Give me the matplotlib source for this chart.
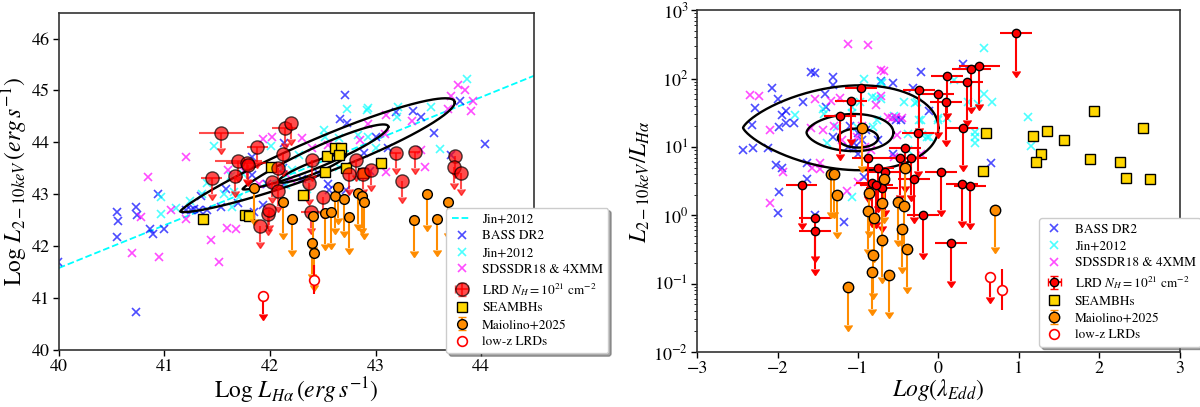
import numpy as np
import matplotlib
matplotlib.use('Agg')
import matplotlib.pyplot as plt

plt.rcParams['font.family'] = 'STIXGeneral'
plt.rcParams['mathtext.fontset'] = 'stix'

# ---------------- left panel: L_X vs L_Halpha (log) ----------------
jin_slope, jin_icpt = 0.823, 41.58   # Jin+2012 relation, y at log LHa = 40

bass_l_x = [39.99, 40.55, 40.56, 40.55, 40.73, 40.74, 40.73, 40.86, 40.89, 40.94, 41.0, 41.28,
            41.33, 41.35, 41.4, 41.58, 41.54, 41.7, 41.85, 41.93, 41.83, 41.97, 42.13, 42.13,
            41.83, 42.71, 42.66, 42.73, 43.0, 43.19, 43.35, 43.43, 43.55, 43.8, 44.04, 43.71,
            43.12, 42.89, 42.56, 42.72, 43.06, 42.46, 42.12, 41.2, 41.25, 42.3, 42.55, 42.95]
bass_l_y = [41.69, 42.65, 42.48, 42.17, 42.75, 42.6, 40.73, 42.33, 42.23, 43.0, 42.33, 42.71,
            42.7, 42.96, 42.69, 43.1, 42.75, 42.83, 42.66, 42.8, 43.37, 43.2, 43.99, 43.2,
            43.71, 44.92, 44.46, 44.37, 44.1, 44.58, 44.6, 44.48, 44.18, 44.8, 43.96, 43.75,
            43.9, 43.79, 43.08, 43.08, 43.62, 43.4, 43.5, 42.7, 42.7, 43.3, 43.2, 43.45]

jin_l_x = [40.97, 40.97, 41.11, 41.36, 41.64, 42.15, 41.47, 42.01, 41.66, 41.74, 41.4, 41.63,
           42.21, 42.51, 42.65, 42.73, 42.93, 42.92, 43.21, 43.2, 43.52, 43.87, 43.61, 42.93,
           42.52, 42.83, 42.27, 42.65, 42.81, 42.11, 41.24, 41.56, 41.71, 42.4, 43.0, 42.35]
jin_l_y = [42.95, 42.63, 42.73, 43.0, 42.75, 43.17, 43.93, 43.93, 43.05, 43.4, 43.22, 43.36,
           43.46, 44.23, 44.08, 44.65, 44.66, 44.62, 44.69, 44.48, 44.68, 45.23, 43.88, 44.1,
           44.1, 44.15, 43.75, 43.53, 43.33, 43.48, 42.88, 43.0, 42.94, 43.3, 43.9, 43.1]

sdss_l_x = [40.84, 41.2, 41.93, 42.02, 40.78, 40.69, 40.95, 41.06, 41.2, 41.44, 41.52, 41.59,
            41.68, 42.3, 42.4, 41.6, 41.75, 42.93, 43.09, 43.1, 43.43, 43.47, 43.34, 43.71,
            43.78, 43.85, 43.92, 43.9, 43.69, 43.1, 42.55, 42.85, 41.9, 42.2]
sdss_l_y = [43.33, 43.71, 44.07, 44.11, 42.56, 41.86, 41.79, 42.69, 42.53, 42.12, 41.7, 42.36,
            42.33, 44.08, 43.9, 43.46, 43.45, 44.35, 44.17, 44.52, 43.86, 43.52, 44.41, 44.9,
            45.1, 45.0, 44.8, 44.6, 44.65, 43.43, 43.95, 44.05, 43.2, 43.3]

lrd_l_x = [41.54, 41.45, 41.70, 41.67, 41.78, 41.79, 41.88, 42.02, 42.12, 42.08, 42.08, 42.14,
           42.20, 42.40, 42.37, 42.50, 42.75, 42.81, 42.88, 42.96, 43.19, 43.25, 43.37, 43.75,
           43.74, 43.81, 41.91, 41.98, 41.99, 42.39]
lrd_l_y = [44.19, 43.31, 43.65, 43.36, 43.60, 43.57, 43.92, 43.24, 43.77, 43.07, 43.50, 44.28,
           44.37, 43.67, 43.21, 42.95, 43.40, 43.67, 43.40, 43.47, 43.80, 43.25, 43.81, 43.73,
           43.52, 43.41, 42.38, 42.63, 42.70, 42.66]
lrd_l_xerr = [0.21, 0.10, 0.22, 0.0, 0.20, 0.0, 0.10, 0.0, 0.0, 0.0, 0.0, 0.12,
              0.0, 0.0, 0.0, 0.0, 0.0, 0.0, 0.0, 0.0, 0.05, 0.0, 0.05, 0.0,
              0.0, 0.0, 0.0, 0.0, 0.0, 0.10]

seam_l_x = [41.37, 41.76, 41.80, 42.01, 42.31, 42.52, 42.54, 42.62, 42.67, 42.65, 42.72, 42.88, 43.05]
seam_l_y = [42.52, 42.60, 42.58, 43.52, 42.98, 43.42, 43.73, 43.90, 43.90, 43.75, 43.50, 43.41, 43.60]

maio_l_x = [41.85, 42.12, 42.21, 42.40, 42.42, 42.41, 42.52, 42.58, 42.62, 42.64, 42.70, 42.75,
            42.83, 42.87, 42.89, 43.36, 43.49, 43.58, 43.69]
maio_l_y = [43.12, 42.85, 42.52, 42.06, 41.86, 42.58, 42.64, 42.66, 42.96, 43.15, 42.90, 42.56,
            43.02, 42.96, 42.85, 42.50, 43.00, 42.52, 42.86]

lowz_l_x = [41.93, 42.42]
lowz_l_y = [41.04, 41.35]

# ---------------- right panel: L_X/L_Halpha vs Eddington ratio ----------------
bass_r_x = [-1.59, -1.53, -1.31, -1.31, -2.07, -2.0, -2.28, -2.32, -1.94, -1.89, -1.98, -1.89,
            -1.79, -2.43, -2.3, -2.12, -2.02, -1.94, -1.68, -1.63, -1.41, -1.40, -1.31, -1.13,
            -1.05, -1.05, -1.0, -0.57, -0.72, -0.32, -0.22, -0.47, -0.53, -0.57, -0.75, -1.64,
            -1.98, -2.0, -1.53, -1.17, -0.93, 0.31, -0.12, 0.65, -1.0, -0.95, -0.9, -1.1]
bass_r_logy = [2.09, 2.08, 2.02, 1.9, 1.86, 1.7, 1.57, 1.32, 1.46, 1.52, 1.29, 1.35,
               1.35, 0.95, 0.98, 0.98, 0.73, 0.69, 1.66, 0.76, 1.77, 1.58, 1.14, 1.0,
               1.06, 0.98, 0.9, 1.93, 1.97, 1.86, 2.09, 1.39, 1.4, 0.9, 1.1, 0.53,
               0.34, 0.03, 0.0, -0.1, 0.56, 2.22, 1.52, 0.76, 1.2, 1.1, 1.25, 1.3]

jin_r_x = [-0.93, -0.72, -0.70, -0.82, -0.78, -0.72, -0.97, -1.07, -0.43, -0.26, -0.22, -0.20,
           -0.12, 0.0, -1.78, -1.44, -1.42, -1.26, -1.07, -1.38, -1.01, -0.81, -0.76, -0.38,
           0.57, 0.2, 0.37, 0.49, 0.57, 0.67, 0.46, 0.46, 0.46, 1.11, 1.15, -0.29,
           -0.24, 0.11, -0.01, -0.38, -0.14, -1.08, -0.55]
jin_r_logy = [1.99, 1.95, 1.94, 1.73, 1.71, 1.70, 1.66, 1.59, 1.65, 1.66, 1.39, 1.17,
              1.14, 1.39, 1.47, 1.55, 1.48, 1.29, 1.49, 1.06, 1.29, 1.29, 1.39, 0.95,
              2.44, 1.98, 1.66, 1.63, 1.77, 1.66, 1.22, 1.14, 1.06, 1.44, 1.01, 1.64,
              1.39, 1.42, 1.42, 1.19, 1.14, 0.27, 1.45]

sdss_r_x = [-1.13, -0.88, -0.72, -0.68, -2.23, -2.1, -1.53, -1.59, -1.43, -1.34, -1.23, -0.78,
            -0.72, -0.63, -0.58, -1.01, -0.91, -0.84, -0.51, -0.55, -1.47, -1.57, -1.93, -2.34,
            -2.09, -1.14, -1.0, -1.47, -0.22, -0.53, -0.45, -1.2, -1.3, -0.95]
sdss_r_logy = [2.5, 2.49, 2.12, 2.11, 1.74, 1.25, 1.7, 1.27, 1.25, 1.67, 1.72, 1.61,
               1.75, 1.44, 1.42, 1.14, 1.0, 0.95, 1.17, 0.85, 0.76, 0.69, 0.63, 1.76,
               0.18, 0.35, 0.48, 0.67, 0.9, 1.44, 1.43, 1.1, 1.3, 1.3]

lrd_r_x = [0.96, 0.41, 0.51, 0.11, 0.35, -0.24, -0.01, 0.09, 0.30, -0.25, -0.42, -0.48,
           -0.34, 0.03, -0.30, 0.29, 0.39, -0.19, 0.16, -0.96, -1.09, -1.22, -0.88, -0.75,
           -0.66, -0.82, -0.70, -0.77, -1.70, -1.53, -1.53]
lrd_r_y = [457, 138, 151, 110, 89, 67, 59, 45, 19, 16, 9.5, 7.0,
           7.0, 4.3, 3.4, 2.9, 2.7, 1.0, 0.39, 72, 47, 28, 6.9, 4.9,
           4.3, 2.95, 2.5, 2.8, 2.75, 0.91, 0.59]
lrd_r_xerr = [0.2, 0.24, 0.25, 0.2, 0.2, 0.2, 0.2, 0.2, 0.19, 0.2, 0.2, 0.2,
              0.2, 0.2, 0.2, 0.2, 0.2, 0.2, 0.2, 0.2, 0.2, 0.2, 0.2, 0.2,
              0.2, 0.2, 0.2, 0.2, 0.19, 0.2, 0.2]

seam_r_x = [0.59, 0.55, 1.18, 1.35, 1.56, 1.27, 1.22, 1.93, 1.88, 2.54, 2.26, 2.33, 2.63]
seam_r_y = [15.9, 4.5, 14.4, 17.0, 12.6, 7.9, 6.0, 33, 6.6, 18.6, 6.0, 3.5, 3.4]

maio_r_x = [-0.95, -1.34, -1.30, -1.26, -0.68, -0.86, -0.41, -0.87, -0.80, -0.70, -0.50, -0.43,
            -0.45, -0.39, -0.70, -0.81, -0.83, -0.62, -1.13, 0.70]
maio_r_y = [18.6, 4.0, 4.0, 2.0, 3.4, 2.1, 5.0, 1.15, 0.9, 1.5, 1.55, 1.35,
            0.63, 0.32, 0.44, 0.26, 0.15, 0.135, 0.089, 1.2]

lowz_r_x = [0.64, 0.79]
lowz_r_y = [0.126, 0.081]

# density contours (centre, main axis, width axis, tip sharpness)
contours_l = [((42.45, 43.72), (1.30, 1.05), (0.0, 0.42), 0.2),
              ((42.43, 43.70), (0.69, 0.60), (0.0, 0.24), 0.2),
              ((42.40, 43.50), (0.32, 0.25), (0.0, 0.12), 0.0)]
contours_r = [((-1.215, 1.28), (1.215, 0.0), (0.0, 0.72), 0.25),
              ((-1.10, 1.21), (0.54, 0.0), (0.0, 0.29), 0.1),
              ((-1.00, 1.13), (0.25, 0.0), (0.0, 0.14), 0.0)]


def contour_path(c, u, v, p, n=300):
    t = np.linspace(0, 2 * np.pi, n)
    s = np.sin(t) * ((1 + np.cos(t)) / 2) ** p
    return c[0] + u[0] * np.cos(t) + v[0] * s, c[1] + u[1] * np.cos(t) + v[1] * s


def log_arrow(y, dex):
    y = np.asarray(y, float)
    return y * (1 - 10 ** (-dex))


fig = plt.figure(figsize=(12, 4.07), dpi=100)
ax1 = fig.add_axes([0.049, 0.140, 0.396, 0.829])
ax2 = fig.add_axes([0.581, 0.135, 0.402, 0.840])

cross_kw = dict(ls='none', marker='x', ms=5.5, mew=1.2, alpha=0.7)
leg_kw = dict(loc='upper left', fontsize=9.5, shadow=True, borderaxespad=0,
              handlelength=1.5, handletextpad=0.8, labelspacing=0.35)

# ---- left ----
xx = np.linspace(40, 44.5, 20)
h_line, = ax1.plot(xx, jin_icpt + jin_slope * (xx - 40), '--', color='cyan', lw=1.3)
h_bass, = ax1.plot(bass_l_x, bass_l_y, color='blue', **cross_kw)
h_jin, = ax1.plot(jin_l_x, jin_l_y, color='cyan', **cross_kw)
h_sdss, = ax1.plot(sdss_l_x, sdss_l_y, color='magenta', **cross_kw)
for c, u, v, p in contours_l:
    cx, cy = contour_path(c, u, v, p)
    ax1.plot(cx, cy, color='k', lw=1.7)

h_lrd = ax1.errorbar(lrd_l_x, lrd_l_y, xerr=lrd_l_xerr, yerr=0.3, uplims=True, fmt='o',
                     color='red', ms=9.5, mfc='red', mec='k', mew=1.0, ecolor='red',
                     elinewidth=1.5, alpha=0.7, capsize=0)
h_seam, = ax1.plot(seam_l_x, seam_l_y, 's', ms=6.5, mfc='gold', mec='k', mew=1.0, ls='none')
h_maio = ax1.errorbar(maio_l_x, maio_l_y, yerr=0.6, uplims=True, fmt='o', color='darkorange',
                      ms=7, mfc='darkorange', mec='k', mew=1.0, ecolor='darkorange',
                      elinewidth=1.5, capsize=0)
ax1.errorbar(lowz_l_x[:1], lowz_l_y[:1], yerr=0.35, uplims=True, fmt='none',
             color='red', ecolor='red', elinewidth=1.5, capsize=0)
ax1.errorbar(lowz_l_x[1:], lowz_l_y[1:], yerr=0.28, fmt='none',
             color='red', ecolor='red', elinewidth=1.5, capsize=0)
h_lowz, = ax1.plot(lowz_l_x, lowz_l_y, 'o', ms=7, mfc='white', mec='red', mew=1.2, ls='none')

ax1.set_xlim(40, 44.5)
ax1.set_ylim(40, 46.5)
ax1.set_xticks([40, 41, 42, 43, 44])
ax1.set_yticks([40, 41, 42, 43, 44, 45, 46])
ax1.set_xlabel(r'Log $L_{H\alpha}\,(erg\,s^{-1})$', fontsize=17, labelpad=0)
ax1.set_ylabel(r'Log $L_{2-10keV}\,(erg\,s^{-1})$', fontsize=17, labelpad=1)

labels_l = ['Jin+2012', 'BASS DR2', 'Jin+2012', 'SDSSDR18 & 4XMM',
            r'LRD $N_H=10^{21}$ cm$^{-2}$', 'SEAMBHs', 'Maiolino+2025', 'low-z LRDs']
ax1.legend([h_line, h_bass, h_jin, h_sdss, h_lrd, h_seam, h_maio, h_lowz], labels_l,
           bbox_to_anchor=(0.372, 0.489), bbox_transform=fig.transFigure, **leg_kw)

# ---- right ----
r_bass, = ax2.plot(bass_r_x, 10 ** np.array(bass_r_logy), color='blue', **cross_kw)
r_jin, = ax2.plot(jin_r_x, 10 ** np.array(jin_r_logy), color='cyan', **cross_kw)
r_sdss, = ax2.plot(sdss_r_x, 10 ** np.array(sdss_r_logy), color='magenta', **cross_kw)
for c, u, v, p in contours_r:
    cx, cy = contour_path(c, u, v, p)
    ax2.plot(cx, 10 ** cy, color='k', lw=1.7)

r_lrd = ax2.errorbar(lrd_r_x, lrd_r_y, xerr=lrd_r_xerr, yerr=log_arrow(lrd_r_y, 0.55),
                     uplims=True, fmt='o', color='red', ms=6, mfc='red', mec='k', mew=1.0,
                     ecolor='red', elinewidth=1.5, capsize=0)
r_seam, = ax2.plot(seam_r_x, seam_r_y, 's', ms=7, mfc='gold', mec='k', mew=1.0, ls='none')
r_maio = ax2.errorbar(maio_r_x, maio_r_y, yerr=log_arrow(maio_r_y, 0.55), uplims=True,
                      fmt='o', color='darkorange', ms=7.5, mfc='darkorange', mec='k', mew=1.0,
                      ecolor='darkorange', elinewidth=1.5, capsize=0)
ax2.errorbar(lowz_r_x[:1], lowz_r_y[:1], yerr=log_arrow(lowz_r_y[:1], 0.3), uplims=True,
             fmt='none', color='red', ecolor='red', elinewidth=1.5, capsize=0)
ly = lowz_r_y[1]
ax2.errorbar(lowz_r_x[1:], lowz_r_y[1:],
             yerr=[[ly * (1 - 10 ** -0.3)], [ly * (10 ** 0.3 - 1)]],
             fmt='none', color='red', ecolor='red', elinewidth=1.5, capsize=0)
r_lowz, = ax2.plot(lowz_r_x, lowz_r_y, 'o', ms=7, mfc='white', mec='red', mew=1.2, ls='none')

ax2.set_yscale('log')
ax2.set_xlim(-3, 3)
ax2.set_ylim(1e-2, 1e3)
ax2.set_xticks([-3, -2, -1, 0, 1, 2, 3])
ax2.set_xlabel(r'$Log(\lambda_{Edd})$', fontsize=17, labelpad=0)
ax2.set_ylabel(r'$L_{2-10keV}/L_{H\alpha}$', fontsize=17, labelpad=1)

labels_r = labels_l[1:]
ax2.legend([r_bass, r_jin, r_sdss, r_lrd, r_seam, r_maio, r_lowz], labels_r,
           bbox_to_anchor=(0.866, 0.464), bbox_transform=fig.transFigure, **leg_kw)

for ax in (ax1, ax2):
    ax.tick_params(labelsize=13, length=4, width=1, pad=2.5)
    for sp in ax.spines.values():
        sp.set_linewidth(1.2)
        sp.set_color('0.2')

fig.savefig('out.png', dpi=100)
